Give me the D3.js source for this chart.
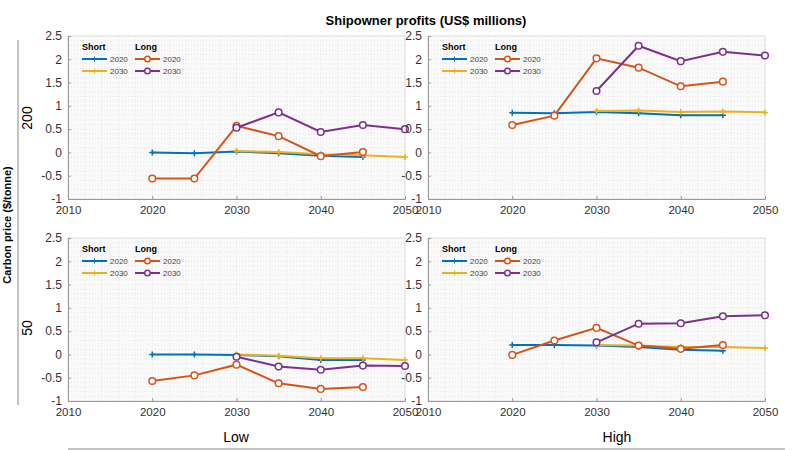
<!DOCTYPE html>
<html><head><meta charset="utf-8">
<script src="https://cdn.jsdelivr.net/npm/d3@7"></script>
<style>body{margin:0;background:#fff}text{font-family:"Liberation Sans",Arial,sans-serif}</style>
</head><body><svg id="chart" width="800" height="450"></svg>
<script>
const years20 = [2020, 2025, 2030, 2035, 2040, 2045];
const years30 = [2030, 2035, 2040, 2045, 2050];
const xTicks = [2010, 2020, 2030, 2040, 2050];
const yTicks = [-1, -0.5, 0, 0.5, 1, 1.5, 2, 2.5];

// [short2020, short2030, long2020, long2030] per panel
const panelTL = [[0,-0.02,0.02,-0.02,-0.07,-0.1],[0.03,0.01,-0.04,-0.06,-0.1],[-0.56,-0.56,0.57,0.35,-0.08,0.01],[0.53,0.86,0.44,0.59,0.5]];
const panelTR = [[0.85,0.84,0.87,0.84,0.8,0.8],[0.89,0.9,0.87,0.88,0.86],[0.59,0.79,2.02,1.82,1.42,1.52],[1.32,2.29,1.96,2.16,2.08]];
const panelBL = [[0,0,-0.01,-0.04,-0.12,-0.12],[0,-0.03,-0.08,-0.08,-0.12],[-0.57,-0.45,-0.22,-0.62,-0.74,-0.7],[-0.05,-0.26,-0.33,-0.24,-0.25]];
const panelBR = [[0.2,0.2,0.19,0.16,0.1,0.08],[0.2,0.19,0.16,0.16,0.14],[-0.01,0.3,0.57,0.19,0.12,0.2],[0.26,0.66,0.67,0.82,0.84]];
const colors = ["#0072BD", "#EDB120", "#D95319", "#7E2F8E"];

const svg = d3.select("#chart");
const panels = [
  {data: panelTL, x: 68, y: 36}, {data: panelTR, x: 428, y: 36},
  {data: panelBL, x: 68, y: 238}, {data: panelBR, x: 428, y: 238}
];
const W = 337, H = 163;

panels.forEach(p => {
  const g = svg.append("g").attr("transform", `translate(${p.x},${p.y})`);
  const x = d3.scaleLinear().domain([2010, 2050]).range([0, W]);
  const y = d3.scaleLinear().domain([-1, 2.5]).range([H, 0]);
  g.append("rect").attr("width", W).attr("height", H).attr("fill", "#fafafa").attr("stroke", "#ddd");
  g.append("g").selectAll("line").data(d3.range(2010, 2051, 2)).join("line")
    .attr("x1", d => x(d)).attr("x2", d => x(d)).attr("y1", 0).attr("y2", H)
    .attr("stroke", "#e6e6e6").attr("stroke-dasharray", "1,2");
  g.append("g").selectAll("line").data(d3.range(-1, 2.51, 0.1)).join("line")
    .attr("y1", d => y(d)).attr("y2", d => y(d)).attr("x1", 0).attr("x2", W)
    .attr("stroke", "#e6e6e6").attr("stroke-dasharray", "1,2");
  const xa = g.append("g").attr("transform", `translate(0,${H})`)
    .call(d3.axisBottom(x).tickValues(xTicks).tickFormat(d3.format("d")).tickSize(-3).tickPadding(7));
  const ya = g.append("g").call(d3.axisLeft(y).tickValues(yTicks).tickFormat(d => d).tickSize(-3).tickPadding(6));
  [xa, ya].forEach(a => { a.selectAll("text").attr("font-size", 12).attr("font-family", "'DejaVu Sans Condensed','Liberation Sans',sans-serif").attr("fill", "#333"); a.select(".domain").attr("stroke", "#999"); a.selectAll(".tick line").attr("stroke", "#999"); });
  xa.selectAll("text").attr("font-size", 11.5);

  const line = d3.line().x(d => x(d[0])).y(d => y(d[1]));
  p.data.forEach((vals, i) => {
    const yrs = (i % 2 === 0) ? years20 : years30;
    const pts = yrs.map((yr, k) => [yr, vals[k]]);
    g.append("path").attr("d", line(pts)).attr("fill", "none").attr("stroke", colors[i]).attr("stroke-width", 2);
    if (i < 2) {
      g.selectAll(null).data(pts).join("path")
        .attr("d", d => `M${x(d[0])-3},${y(d[1])}h6M${x(d[0])},${y(d[1])-3}v6`)
        .attr("stroke", colors[i]).attr("stroke-width", 1.5);
    } else {
      g.selectAll(null).data(pts).join("circle")
        .attr("cx", d => x(d[0])).attr("cy", d => y(d[1])).attr("r", 3.3)
        .attr("fill", "#fff").attr("stroke", colors[i]).attr("stroke-width", 1.5);
    }
  });

  // legend
  const lg = g.append("g").attr("transform", "translate(14,14)");
  lg.append("text").attr("x", 0).attr("y", 0).attr("font-size", 9).attr("font-weight", "bold").text("Short");
  lg.append("text").attr("x", 53).attr("y", 0).attr("font-size", 9).attr("font-weight", "bold").text("Long");
  const items = [[0, 0, 12, "2020"], [1, 0, 24, "2030"], [2, 53, 12, "2020"], [3, 53, 24, "2030"]];
  items.forEach(([ci, lx, ly, lab]) => {
    lg.append("line").attr("x1", lx).attr("x2", lx + 25).attr("y1", ly - 3).attr("y2", ly - 3).attr("stroke", colors[ci]).attr("stroke-width", 2);
    if (ci < 2) lg.append("path").attr("d", `M${lx+10},${ly-3}h5M${lx+12.5},${ly-5.5}v5`).attr("stroke", colors[ci]);
    else lg.append("circle").attr("cx", lx + 12.5).attr("cy", ly - 3).attr("r", 2.8).attr("fill", "#fff").attr("stroke", colors[ci]).attr("stroke-width", 1.5);
    lg.append("text").attr("x", lx + 28).attr("y", ly).attr("font-size", 8).attr("fill", "#444").text(lab);
  });
});

svg.append("text").attr("x", 426).attr("y", 25).attr("text-anchor", "middle").attr("font-size", 13).attr("font-weight", "bold").text("Shipowner profits (US$ millions)");
svg.append("text").attr("transform", "translate(11,225) rotate(-90)").attr("text-anchor", "middle").attr("font-size", 11).attr("font-weight", "bold").text("Carbon price ($/tonne)");
svg.append("line").attr("x1", 18).attr("x2", 18).attr("y1", 40).attr("y2", 405).attr("stroke", "#888");
svg.append("text").attr("transform", "translate(32,118) rotate(-90)").attr("text-anchor", "middle").attr("font-size", 14).text("200");
svg.append("text").attr("transform", "translate(32,328) rotate(-90)").attr("text-anchor", "middle").attr("font-size", 14).text("50");
svg.append("text").attr("x", 236).attr("y", 442).attr("text-anchor", "middle").attr("font-size", 14).text("Low");
svg.append("text").attr("x", 617).attr("y", 442).attr("text-anchor", "middle").attr("font-size", 14).text("High");
svg.append("line").attr("x1", 68).attr("x2", 785).attr("y1", 449).attr("y2", 449).attr("stroke", "#888");
</script></body></html>
